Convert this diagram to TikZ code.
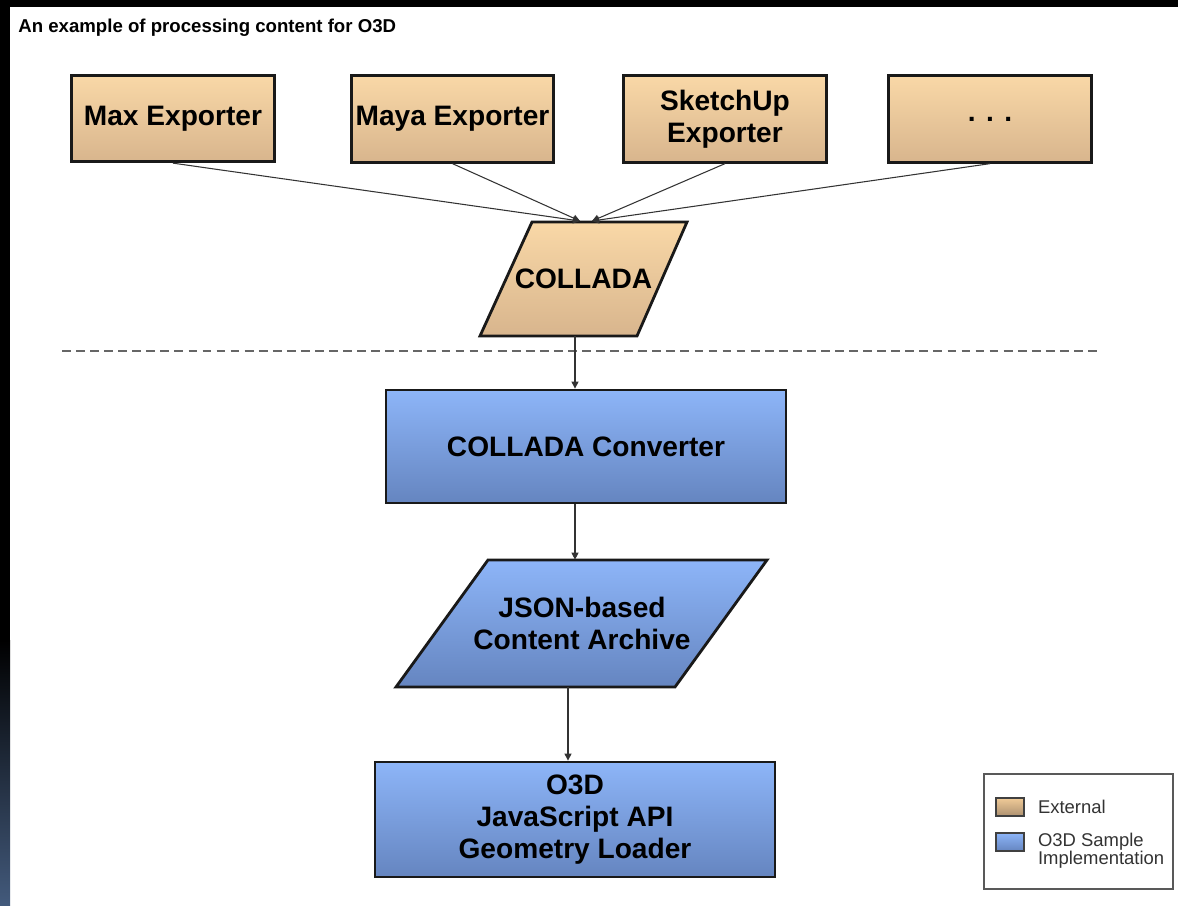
\documentclass[tikz,border=0pt]{standalone}
\usepackage{fontspec}
\setmainfont{Liberation Sans}
\usepackage{xcolor}
\usetikzlibrary{positioning,arrows.meta}

\definecolor{extTop}{HTML}{F9D8A7}
\definecolor{extBot}{HTML}{D8B58D}
\definecolor{smpTop}{HTML}{8DB5F8}
\definecolor{smpBot}{HTML}{6585C0}
\definecolor{slideBlue}{HTML}{435A7C}

\tikzset{
  boxtext/.style={font=\fontsize{16}{18}\selectfont\bfseries, align=center, inner sep=2pt},
  external/.style={boxtext, draw=black!90, line width=1.6pt, top color=extTop, bottom color=extBot},
  sample/.style={boxtext, draw=black!90, line width=1.6pt, top color=smpTop, bottom color=smpBot},
  exporter/.style={external, minimum width=4.05cm, minimum height=1.73cm},
  extdata/.style={draw=black!90, line width=1.6pt, line join=miter, top color=extTop, bottom color=extBot},
  smpdata/.style={draw=black!90, line width=1.6pt, line join=miter, top color=smpTop, bottom color=smpBot},
  link/.style={draw=black!80, line width=0.6pt, -{Triangle[length=4pt,width=4pt]}},
  swatch/.style={draw=black!75, line width=0.8pt, minimum width=0.56cm, minimum height=0.36cm, inner sep=0pt},
  legendtext/.style={font=\fontsize{10.5}{8.6}\selectfont, text=black!80, align=left, inner sep=0pt}
}

\begin{document}
\begin{tikzpicture}[x=0.02cm, y=-0.02cm]
  % slide frame
  \fill[white] (0,0) rectangle (1178,906);
  \fill[black] (0,0) rectangle (1178,7);
  \fill[black] (0,0) rectangle (10,640);
  \shade[top color=black, bottom color=slideBlue] (0,640) rectangle (10,906);

  \node[anchor=base west, font=\fontsize{10.6}{13}\selectfont\bfseries, inner sep=0pt] (title) at (18,32) {An example of processing content for O3D};

  \node[exporter] (max) at (173,118.5) {Max Exporter};
  \node[exporter] (maya) at (452.5,119) {Maya Exporter};
  \node[exporter] (sketchup) at (725,119) {SketchUp\\Exporter};
  \node[exporter] (more) at (990,119) {. . .};

  % parallelograms
  \shade[extdata] (532,222) -- (687,222) -- (637,336) -- (480,336) -- cycle;
  \node[boxtext, minimum width=4.14cm, minimum height=2.28cm] (collada) at (583.5,279) {COLLADA};

  \draw[black!60, dashed, dash pattern=on 5pt off 3pt, line width=0.6pt] (62,351) -- (1100,351);

  \node[sample, minimum width=8cm, minimum height=2.26cm] (converter) at (586,446.5) {COLLADA Converter};
  \shade[smpdata] (488,560) -- (767,560) -- (675,687) -- (396,687) -- cycle;
  \node[boxtext, minimum width=7.42cm, minimum height=2.54cm] (archive) at (582,623.5) {JSON-based\\Content Archive};
  \node[sample, minimum width=8cm, minimum height=2.3cm] (loader) at (575,819.5) {O3D\\JavaScript API\\Geometry Loader};

  \coordinate (inA) at (580,221);
  \coordinate (inB) at (592,221);
  \draw[link] (max.south) -- (inA);
  \draw[link] (maya.south) -- (inA);
  \draw[link] (sketchup.south) -- (inB);
  \draw[link] (more.south) -- (inB);

  \draw[link] (collada.south -| loader.north) -- (converter.north -| loader.north);
  \draw[link] (converter.south -| loader.north) -- (archive.north -| loader.north);
  \draw[link] ([xshift=-0.14cm]archive.south -| loader.north) -- ([xshift=-0.14cm]loader.north);

  % legend
  \node[draw=black!65, line width=0.8pt, minimum width=3.78cm, minimum height=2.3cm] (legend) at (1078.5,831.5) {};
  \node[swatch, top color=extTop!85!brown, bottom color=extBot!80!black] (extsw) at (1010,807) {};
  \node[swatch, top color=smpTop, bottom color=smpBot] (smpsw) at (1010,842) {};
  \node[legendtext, right=0.26cm of extsw] (exttext) {External};
  \node[legendtext, right=0.26cm of smpsw.north east, anchor=north west] (smptext) {O3D Sample\\Implementation};
\end{tikzpicture}
\end{document}
